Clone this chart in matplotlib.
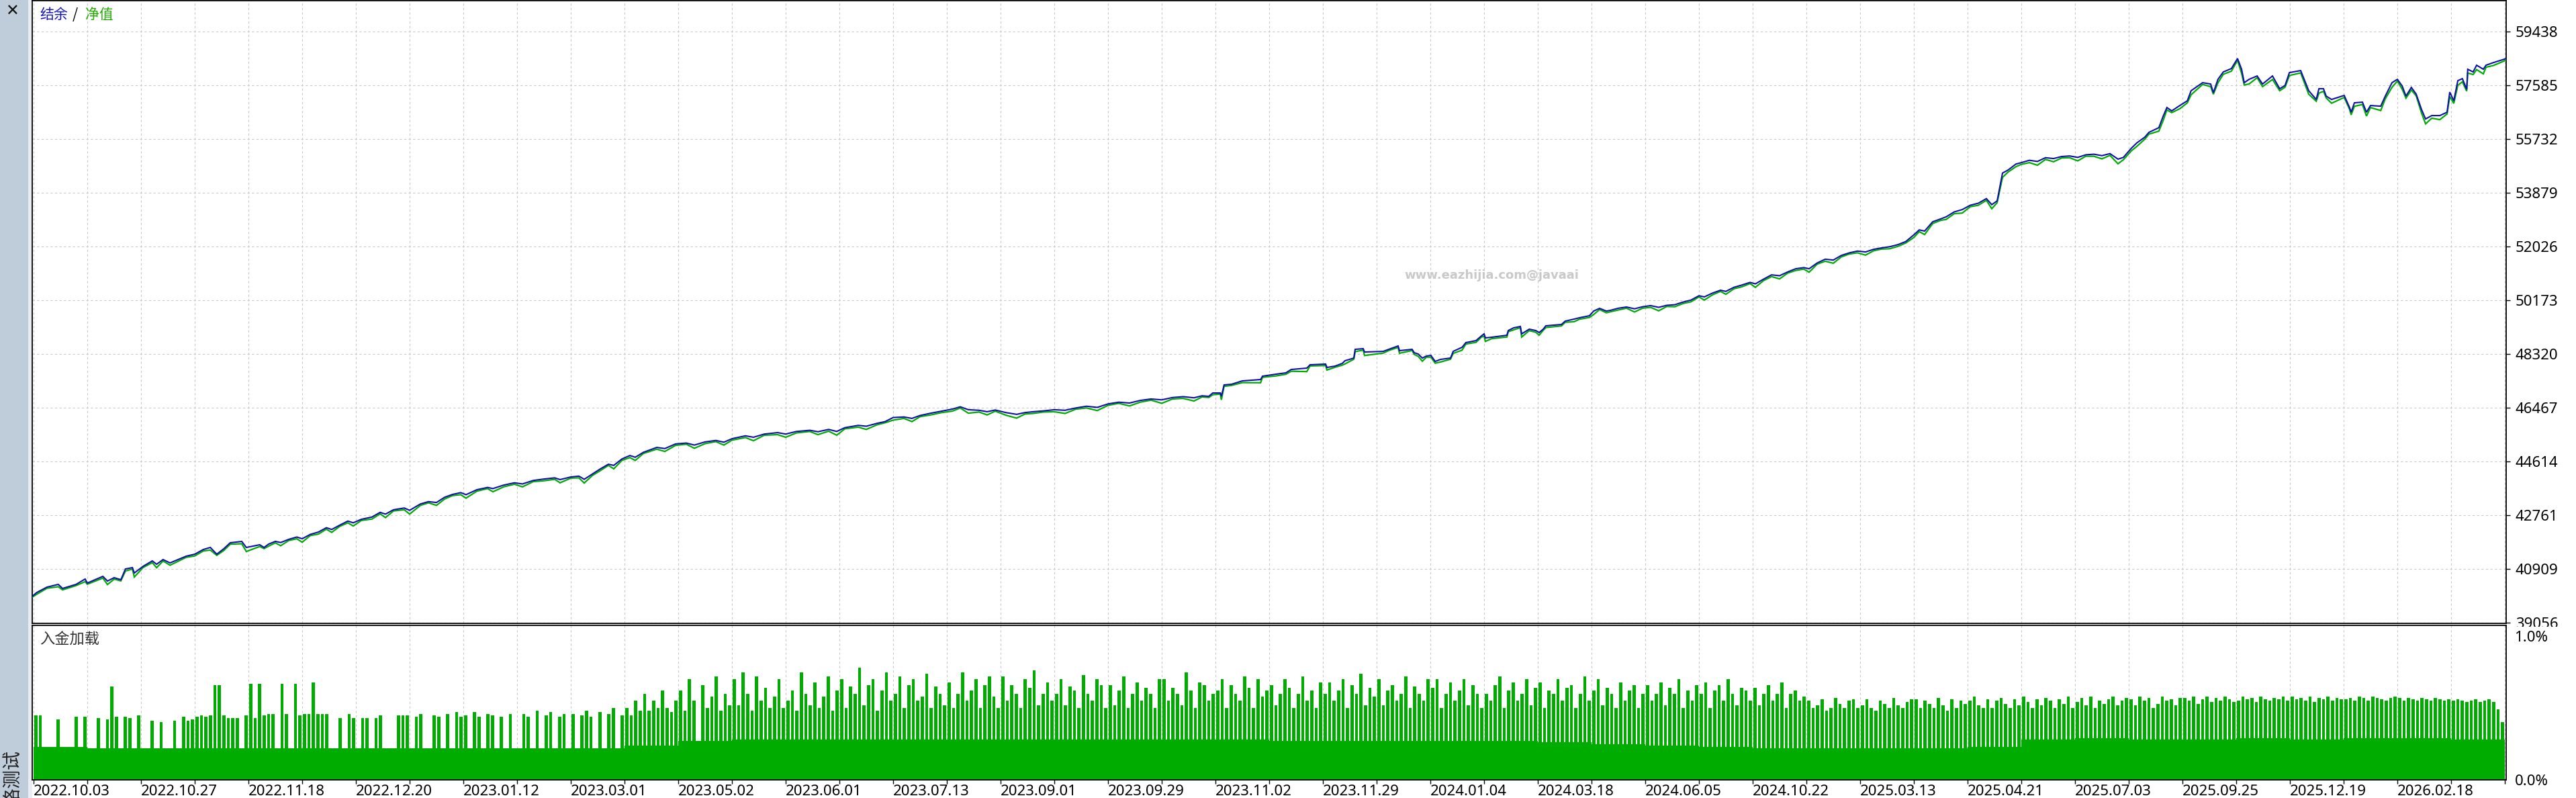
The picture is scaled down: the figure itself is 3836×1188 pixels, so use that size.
import numpy as np
import matplotlib
matplotlib.use("Agg")
import matplotlib.pyplot as plt
from matplotlib.patches import Rectangle

W, H, DPI = 3836, 1188, 100

# ---------------- data ----------------
date_labels = ["2022.10.03", "2022.10.27", "2022.11.18", "2022.12.20", "2023.01.12",
               "2023.03.01", "2023.05.02", "2023.06.01", "2023.07.13", "2023.09.01",
               "2023.09.29", "2023.11.02", "2023.11.29", "2024.01.04", "2024.03.18",
               "2024.06.05", "2024.10.22", "2025.03.13", "2025.04.21", "2025.07.03",
               "2025.09.25", "2025.12.19", "2026.02.18"]
value_ticks = [39056, 40909, 42761, 44614, 46467, 48320, 50173, 52026, 53879, 55732, 57585, 59438]
load_ticks = [0.0, 1.0]
load_tick_labels = ["0.0%", "1.0%"]

# trade position (grid units), balance value, equity gap below balance
trade_pos = [
    -0.03, 0.06, 0.25, 0.46, 0.54, 0.79, 0.96, 1.0, 1.29, 1.375, 1.5,
    1.625, 1.71, 1.84, 1.875, 2.04, 2.21, 2.29, 2.41, 2.54, 2.84, 3.0,
    3.16, 3.29, 3.41, 3.54, 3.66, 3.875, 3.96, 4.21, 4.29, 4.375,
    4.5, 4.6, 4.75, 4.9, 5.0, 5.15, 5.3, 5.45, 5.55, 5.7,
    5.85, 5.95, 6.1, 6.3, 6.45, 6.55, 6.7, 6.9, 7.0, 7.2,
    7.35, 7.5, 7.65, 7.8, 7.95, 8.05, 8.25, 8.45, 8.55, 8.75,
    8.95, 9.1, 9.3, 9.5, 9.7, 9.8, 10.0, 10.15, 10.25, 10.4,
    10.55, 10.7, 10.8, 10.95, 11.1, 11.2, 11.35, 11.6, 11.75, 11.95,
    12.15, 12.3, 12.5, 12.7, 12.85, 13.0, 13.25, 13.4, 13.6, 13.85,
    14.0, 14.2, 14.45, 14.6, 14.8, 14.95, 15.1, 15.35, 15.5, 15.7,
    15.85, 16.0, 16.2, 16.35, 16.5, 16.7, 16.9, 17.1, 17.25, 17.4,
    17.6, 17.75, 17.9, 18.1, 18.3, 18.45, 18.6, 18.8, 19.0, 19.2,
    19.4, 19.6, 19.8, 20.0, 20.2, 20.4, 20.6, 20.8, 21.0, 21.2, 21.4, 21.6, 21.75,
    21.875, 21.95, 22.09, 22.11, 22.16, 22.3, 22.5, 22.84, 22.875, 23.125, 23.31,
    23.41, 23.7, 23.76, 24.05, 24.075, 24.225, 24.36, 24.41, 24.575, 24.6, 24.75,
    24.775, 25.125, 25.225, 25.4, 25.425, 25.66, 25.7, 25.775, 25.85, 25.925, 26.01,
    26.09, 26.19, 26.375, 26.425, 26.59, 26.66, 26.85, 26.95, 27.0, 27.025, 27.14,
    27.425, 27.45, 27.55, 27.675, 27.7, 27.84, 27.96, 28.025, 28.1, 28.15, 28.44,
    28.51, 28.675, 28.775, 28.96, 29.04, 29.15, 29.275, 29.35,
    29.5, 29.65, 29.8, 29.95, 30.1, 30.25, 30.4, 30.55, 30.7, 30.85,
    31.0, 31.1, 31.25, 31.4, 31.5, 31.65, 31.8, 31.95, 32.05, 32.2,
    32.35, 32.5, 32.65, 32.8, 32.95, 33.05, 33.2, 33.35, 33.5, 33.65,
    33.8, 33.95, 34.1, 34.25, 34.4, 34.55, 34.7, 34.85, 35.0, 35.1,
    35.2, 35.35, 35.5, 35.6, 35.75, 35.9, 36.05, 36.2, 36.35, 36.45,
    36.55, 36.65, 36.75, 36.9, 37.0, 37.15, 37.3, 37.45, 37.6, 37.75,
    37.9, 38.05, 38.2, 38.35, 38.5, 38.65, 38.8, 38.9, 39.05, 39.15, 39.3, 39.375,
    39.56,
    39.64, 39.71, 39.8, 39.95, 40.09, 40.16, 40.375, 40.525, 40.575, 40.66, 40.76,
    40.91, 41.025, 41.1, 41.15, 41.24, 41.39, 41.49, 41.675, 41.81, 41.91, 41.99,
    42.2, 42.35, 42.49, 42.54, 42.625, 42.675, 42.775, 43.01, 43.11, 43.14, 43.2,
    43.35, 43.425, 43.5, 43.69, 43.775, 43.9, 44.0, 44.09, 44.16, 44.26, 44.35,
    44.45, 44.525, 44.64, 44.79, 44.925, 44.975, 45.05, 45.125, 45.21, 45.29, 45.31,
    45.41, 45.475, 45.6, 45.65, 45.79, 45.99, 46.02,
]
balance = [
    39960, 40098, 40283, 40376, 40237, 40376, 40561, 40422, 40654, 40492, 40608,
    40538, 40909, 40955, 40770, 41001, 41187, 41071, 41233, 41117, 41349, 41418,
    41580, 41650, 41418, 41604, 41812, 41858, 41650, 41743, 41650, 41766,
    41860, 41820, 41930, 42010, 41950, 42100, 42180, 42330, 42270, 42420,
    42560, 42500, 42620, 42700, 42860, 42800, 42950, 43010, 42930, 43150,
    43230, 43200, 43380, 43480, 43540, 43470, 43640, 43720, 43680, 43800,
    43880, 43840, 43960, 44010, 44050, 43990, 44080, 44110, 44000, 44180,
    44360, 44520, 44480, 44700, 44820, 44760, 44930, 45100, 45060, 45220,
    45250, 45180, 45290, 45340, 45280, 45400, 45500, 45450, 45560, 45610,
    45560, 45650, 45690, 45640, 45720, 45650, 45780, 45860, 45830, 45930,
    45990, 46130, 46150, 46100, 46200, 46280, 46350, 46420, 46500, 46400,
    46380, 46330, 46390, 46300, 46240, 46300, 46330, 46360, 46400, 46380,
    46460, 46520, 46480, 46600, 46660, 46630, 46720, 46770, 46740, 46820, 46850, 46810, 46880,
    46861, 46977, 46977, 46861, 47255, 47278, 47394, 47440, 47556, 47625, 47672,
    47787, 47834, 47949, 47973, 47857, 47903, 47996, 48088, 48181, 48482, 48505,
    48389, 48412, 48482, 48598, 48436, 48482, 48366, 48320, 48181, 48250, 48273,
    48065, 48135, 48181, 48412, 48552, 48714, 48783, 48945, 49015, 48876, 48899,
    48968, 49131, 49223, 49270, 49015, 49177, 49131, 49061, 49177, 49293, 49339,
    49455, 49524, 49571, 49640, 49802, 49895, 49802, 49826,
    49900, 49941, 49880, 49950, 49990, 49930, 50000, 50020, 50110, 50180,
    50330, 50290, 50420, 50520, 50480, 50620, 50700, 50790, 50740, 50900,
    51050, 51020, 51150, 51260, 51300, 51260, 51460, 51590, 51560, 51720,
    51810, 51870, 51840, 51930, 51980, 52020, 52090, 52200, 52430, 52600,
    52560, 52880, 52980, 53050, 53220, 53300, 53450, 53520, 53680, 53470,
    53600, 54560, 54660, 54870, 54920, 55000, 54960, 55090, 55060, 55130,
    55150, 55100, 55190, 55210, 55160, 55230, 55040, 55100, 55420, 55600, 55800, 55963,
    56125,
    56519, 56820, 56704, 56889, 57051, 57399, 57677, 57630, 57329, 57792, 58047,
    58163, 58510, 58140, 57677, 57792, 57908, 57630, 57908, 57468, 57584, 58024,
    58094, 57399, 57098, 57468, 57468, 57213, 57098, 57237, 56820, 56658, 56982,
    57005, 56658, 56889, 56866, 57213, 57677, 57792, 57561, 57213, 57514, 57283,
    56750, 56426, 56542, 56542, 56658, 57352, 57051, 57746, 57816, 57445, 58140,
    58047, 58279, 58140, 58279, 58371, 58487, 58510,
]
equity_gap = [
    30, 60, 40, 80, 50, 40, 90, 40, 60, 120, 50,
    40, 70, 50, 140, 40, 60, 120, 50, 80, 40, 60,
    50, 90, 40, 60, 50, 80, 140, 60, 40, 70,
    50, 110, 40, 60, 120, 40, 70, 50, 100, 40,
    60, 110, 40, 70, 50, 120, 40, 60, 130, 50,
    40, 100, 60, 40, 70, 120, 50, 40, 110, 60,
    50, 100, 40, 60, 50, 110, 40, 60, 130, 50,
    60, 40, 120, 50, 70, 110, 40, 60, 100, 50,
    40, 110, 60, 40, 100, 50, 60, 120, 40, 70,
    110, 50, 40, 100, 60, 130, 40, 60, 110, 50,
    40, 90, 50, 110, 40, 60, 50, 70, 40, 120,
    60, 110, 40, 90, 130, 50, 60, 40, 70, 110,
    40, 60, 110, 50, 40, 100, 60, 40, 120, 50, 60, 110, 40,
    40, 60, 40, 120, 50, 40, 60, 110, 40, 60, 50,
    60, 120, 40, 50, 90, 40, 60, 110, 40, 80, 50,
    120, 60, 40, 50, 90, 40, 60, 80, 110, 40, 60,
    60, 90, 40, 70, 100, 50, 60, 40, 80, 120, 50,
    60, 40, 70, 40, 110, 50, 60, 90, 40, 60, 50,
    40, 90, 50, 60, 120, 40, 60, 50,
    60, 40, 110, 50, 60, 120, 40, 70, 50, 60,
    40, 110, 60, 40, 100, 50, 60, 40, 120, 50,
    60, 110, 40, 60, 50, 120, 40, 70, 110, 50,
    40, 60, 110, 50, 40, 70, 60, 50, 90, 60,
    120, 60, 50, 90, 60, 120, 50, 70, 60, 140,
    60, 150, 70, 90, 60, 80, 130, 60, 110, 50,
    60, 120, 50, 70, 110, 60, 160, 80, 90, 120, 70, 60,
    120,
    150, 80, 60, 110, 70, 140, 60, 90, 50, 120, 80,
    90, 60, 140, 80, 160, 60, 90, 120, 70, 60, 100,
    80, 120, 60, 150, 90, 60, 130, 70, 60, 90, 120,
    80, 130, 70, 150, 90, 160, 60, 110, 70, 90, 60,
    120, 170, 90, 140, 60, 150, 90, 160, 110, 60, 130,
    90, 150, 160, 70, 100, 60, 40,
]

# deposit load: base level per grid cell (%), and peaks per 1/12 cell (0 = none)
load_base = [0.23, 0.22, 0.22, 0.22, 0.22, 0.22, 0.22, 0.22, 0.22, 0.22,
             0.22, 0.24, 0.27, 0.28, 0.28, 0.28, 0.28, 0.28, 0.28, 0.28,
             0.28, 0.28, 0.28, 0.27, 0.27, 0.27, 0.27, 0.27, 0.26, 0.25,
             0.24, 0.23, 0.22, 0.22, 0.22, 0.22, 0.23, 0.28, 0.29, 0.28,
             0.28, 0.29, 0.28, 0.29, 0.29, 0.28]
load_peaks = [
    [.45, .45, 0, 0, 0, .42, 0, 0, 0, .44, 0, .44],
    [0, 0, .43, 0, .42, .65, .44, 0, .44, .43, 0, .45],
    [0, 0, .41, 0, .40, 0, 0, .41, 0, .44, .41, .42],
    [.44, .45, .44, .45, .66, .66, .45, .43, .43, .43, 0, .45],
    [.67, .43, .67, .45, .46, .46, 0, .67, .46, 0, .67, .45],
    [.46, .46, .68, .46, .46, .46, 0, 0, .43, 0, .46, .43],
    [0, .43, .43, 0, .43, .45, 0, 0, 0, .45, .45, .45],
    [0, .44, .46, 0, 0, .45, .44, 0, .46, 0, .47, .44],
    [.45, 0, .47, .44, 0, .46, .45, 0, .44, 0, .46, 0],
    [0, .46, .44, 0, .48, 0, .45, .47, 0, .44, .46, 0],
    [.46, 0, .45, .48, .44, 0, .47, 0, .46, .5, 0, .45],
    [.5, .45, .55, .48, .6, .48, .55, .5, .62, .5, .47, .55],
    [.62, .48, .7, .55, 0, .66, .5, .58, .72, .48, .6, .52],
    [.7, .52, .75, .6, .48, .72, .55, .64, .5, .58, .7, .5],
    [.55, .62, .48, .75, .6, .52, .68, .5, .58, .72, .48, .62],
    [.7, .5, .65, .6, .78, .52, .66, .7, .48, .62, .75, .55],
    [.6, .72, .5, .66, .7, .55, .58, .74, .5, .65, .6, .52],
    [.68, .5, .6, .75, .55, .62, .7, .5, .66, .72, .58, .5],
    [.72, .55, .66, .6, .5, .7, .64, .76, .52, .6, .68, .55],
    [.6, .7, .52, .65, .62, .5, .73, .6, .55, .7, .66, .5],
    [.66, .52, .62, .72, .5, .6, .68, .55, .64, .6, .5, .7],
    [.7, .55, .64, .6, .52, .75, .62, .5, .68, .66, .55, .6],
    [.62, .7, .5, .66, .6, .55, .72, .64, .5, .7, .58, .62],
    [.66, .52, .6, .7, .64, .5, .6, .72, .55, .62, .5, .68],
    [.6, .68, .55, .62, .7, .5, .66, .6, .74, .52, .64, .58],
    [.7, .52, .62, .66, .55, .6, .72, .5, .65, .6, .55, .7],
    [.64, .7, .5, .6, .68, .55, .62, .7, .52, .66, .6, .5],
    [.6, .55, .66, .72, .5, .62, .68, .55, .6, .7, .52, .64],
    [.68, .5, .62, .6, .7, .55, .64, .66, .5, .6, .72, .55],
    [.62, .7, .52, .64, .6, .5, .68, .55, .62, .66, .5, .6],
    [.66, .55, .6, .68, .52, .64, .6, .7, .5, .62, .55, .66],
    [.6, .68, .5, .62, .66, .55, .7, .6, .52, .64, .62, .55],
    [.64, .52, .6, .66, .55, .6, .68, .5, .6, .62, .55, .58],
    [.55, .5, .52, .56, .48, .5, .57, .53, .5, .55, .56, .5],
    [.52, .56, .5, .48, .55, .53, .5, .57, .52, .5, .54, .56],
    [.56, .5, .55, .53, .5, .57, .52, .48, .56, .5, .55, .53],
    [.55, .58, .52, .5, .56, .5, .55, .57, .53, .5, .56, .52],
    [.58, .54, .5, .56, .52, .57, .55, .5, .56, .53, .58, .5],
    [.54, .57, .52, .58, .5, .55, .53, .56, .58, .52, .55, .57],
    [.56, .52, .58, .55, .57, .5, .53, .58, .55, .56, .52, .57],
    [.57, .55, .58, .53, .56, .58, .54, .57, .55, .58, .56, .54],
    [.55, .58, .56, .57, .54, .58, .56, .55, .57, .56, .58, .55],
    [.58, .56, .57, .55, .58, .54, .57, .56, .58, .55, .57, .56],
    [.56, .57, .55, .58, .57, .55, .58, .57, .56, .55, .57, .58],
    [.57, .55, .57, .56, .55, .57, .56, .55, .57, .56, .55, .56],
    [.55, .56, .55, .54, .55, .56, .54, .55, .56, .54, .49, .40],
]

# ---------------- style ----------------
BLUE = "#0F0FAE"
GREEN = "#00AC00"
GRID = "#C8C8C8"
FONT = "Noto Sans"
CJK = ["Noto Sans CJK SC", "DejaVu Sans"]

fig = plt.figure(figsize=(W / DPI, H / DPI), dpi=DPI)
fig.patch.set_facecolor("white")


def fx(px):
    return px / W


def fy(py):
    return 1 - py / H


# left sidebar
fig.patches.append(Rectangle((0, 0), fx(42), 1, transform=fig.transFigure,
                             facecolor="#BFCCD9", edgecolor="none", zorder=0))
fig.patches.append(Rectangle((fx(42), 0), fx(6), 1, transform=fig.transFigure,
                             facecolor="#E9EDF2", edgecolor="none", zorder=0))
fig.text(fx(18), fy(17), "\u2715", ha="center", va="center", fontsize=17,
         fontweight="bold", color="#111111", family="DejaVu Sans")
fig.text(fx(19), fy(1117), "策略测试", rotation=90, ha="center", va="top",
         fontsize=20, color="#222222", family=CJK)

L, R = 48, 3732
ax = fig.add_axes([fx(L), fy(928), fx(R - L), (928 - 1) / H], zorder=1)
ax2 = fig.add_axes([fx(L), fy(1161), fx(R - L), (1161 - 931) / H], zorder=3)

# cover the area under main axis labels where the sub panel begins
fig.patches.append(Rectangle((fx(R + 1), 0), fx(W - R), fy(933), transform=fig.transFigure,
                             facecolor="white", edgecolor="none", zorder=2))

XMIN, XMAX = -0.025, 46.025
grid_x = np.arange(0, 47)

# ---- main panel ----
pos = np.array(trade_pos, dtype=float)
bal = np.array(balance, dtype=float)
n = min(len(pos), len(bal), len(equity_gap))
pos, bal = pos[:n], bal[:n]
eq = bal - np.array(equity_gap[:n], dtype=float)
ax.plot(pos, eq, color=GREEN, lw=1.6, zorder=3, solid_joinstyle="miter")
ax.plot(pos, bal, color=BLUE, lw=1.5, zorder=4, solid_joinstyle="miter")

step = value_ticks[1] - value_ticks[0]
ax.set_ylim(value_ticks[0] - step / 80, value_ticks[0] + step * 926 / 80)
ax.set_xlim(XMIN, XMAX)
ax.set_yticks(value_ticks)
ax.set_yticklabels([str(v) for v in value_ticks])
ax.set_xticks(grid_x)
ax.yaxis.tick_right()
ax.tick_params(axis="y", right=True, left=False, labelright=True, labelleft=False,
               length=4, width=1, pad=6, labelsize=16, colors="black")
ax.tick_params(axis="x", bottom=False, labelbottom=False)
for t in ax.get_yticklabels():
    t.set_family(FONT)
ax.grid(True, color=GRID, linestyle=(0, (3, 3)), lw=0.8)
for s in ax.spines.values():
    s.set_color("black")
    s.set_linewidth(1.3)

fig.text(fx(59), fy(22), "结余", color="#1515C8", fontsize=15, va="center", ha="left", family=CJK)
fig.text(fx(108), fy(22), "/", color="black", fontsize=15, va="center", ha="left", family=CJK)
fig.text(fx(127), fy(22), "净值", color="#22AA00", fontsize=15, va="center", ha="left", family=CJK)
fig.text(fx(2221), fy(410), "www.eazhijia.com@javaai", ha="center", va="center",
         color="#C9C9C9", fontsize=13, fontweight="bold", family="DejaVu Sans")

# ---- deposit load panel ----
cells = np.arange(len(load_base))
ax2.bar(cells + 0.5, load_base, width=1.0, color=GREEN, linewidth=0, zorder=2)
px_, py_ = [], []
for c, row in enumerate(load_peaks):
    for k, v in enumerate(row):
        if v > 0:
            px_.append(c + (k + 0.5) / len(row))
            py_.append(v)
ax2.bar(px_, py_, width=0.06, color=GREEN, linewidth=0, zorder=2)

ax2.set_xlim(XMIN, XMAX)
ax2.set_ylim(0, 1.075)
ax2.set_xticks(grid_x)
ax2.set_xticklabels([date_labels[i // 2] if i % 2 == 0 and i // 2 < len(date_labels) else ""
                     for i in grid_x])
for t in ax2.get_xticklabels():
    t.set_ha("left")
    t.set_family(FONT)
ax2.set_yticks(load_ticks)
ax2.set_yticklabels(load_tick_labels)
ax2.yaxis.tick_right()
ax2.tick_params(axis="y", right=True, left=False, labelright=True, labelleft=False,
                length=0, pad=9, labelsize=16)
for t in ax2.get_yticklabels():
    t.set_family(FONT)
ax2.tick_params(axis="x", length=4, width=1, pad=1, labelsize=16)
ax2.grid(True, axis="x", color=GRID, linestyle=(0, (3, 3)), lw=0.8)
ax2.set_axisbelow(True)
for s in ax2.spines.values():
    s.set_color("black")
    s.set_linewidth(1.3)
fig.text(fx(59), fy(952), "入金加载", color="#333333", fontsize=16, va="center", ha="left", family=CJK)

fig.savefig("out.png", dpi=DPI)
